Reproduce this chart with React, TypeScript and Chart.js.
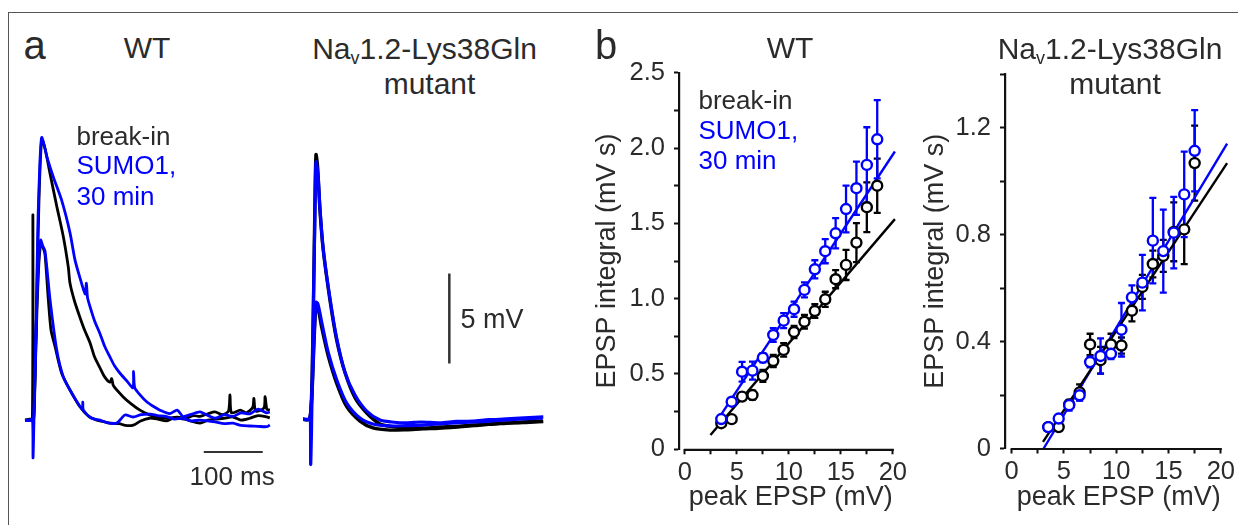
import React, { useEffect, useRef } from "react";
import { Chart, registerables } from "chart.js";
Chart.register(...registerables);

const BLUE = "#0000ff";
const BLACK = "#000000";
const AXIS = "#111111";
const TEXT = "#2b2b2b";
const FONT = "'Liberation Sans', Arial, Helvetica, sans-serif";

// ---------- Panel a: example traces, [time (ms), voltage (mV)] ----------
const wtBreakInLarge: [number, number][] = [
  [0, 0], [8, 0.05], [12.5, 0.1], [13.4, 11.4], [14.2, 0], [16.9, 2.2], [20.3, 7.2], [23.7, 12.2],
  [28.3, 15.6], [33.9, 15.1], [42.4, 13.7], [53.7, 11.9], [64.9, 10.2], [73.4, 8.5], [76.3, 7.6],
  [84, 6.6], [93.2, 5.7], [101, 5.0], [110.2, 4.3], [118, 3.5], [127.1, 2.9], [135, 2.4], [144.1, 2.1],
  [147, 2.3], [150, 1.9], [166.1, 1.3], [180, 0.9], [194.9, 0.55], [210, 0.3], [223.7, 0.17], [240, 0.1],
  [254, 0.15], [270, 0.05], [285, 0.25], [296.6, 0.2], [310, 0.35], [322, 0.45], [335, 0.3], [345, 0.5],
  [347.5, 1.4], [350, 0.4], [365, 0.55], [375, 0.4], [386, 0.7], [388, 1.2], [391, 0.5], [405, 0.67],
  [407, 1.3], [410, 0.6], [415, 0.55],
];
const wtSumoLarge: [number, number][] = [
  [0, 0], [8, -0.03], [12.7, 0.06], [13.6, -2.1], [15, -0.3], [18.6, 5.0], [22, 11.1], [25.4, 14.4],
  [28.3, 15.7], [32.2, 15.3], [37.3, 14.6], [48, 13.5], [62.2, 12.2], [76.3, 10.4], [84.7, 8.9],
  [93.2, 7.9], [102, 7.0], [104, 7.6], [106, 6.8], [110.2, 6.3], [118, 5.5], [127.1, 4.8], [135, 4.1],
  [144.1, 3.5], [152, 3.0], [161, 2.6], [172, 2.2], [183, 1.8], [184, 2.7], [186, 1.8], [195, 1.4],
  [206.8, 1.0], [218, 0.75], [228.8, 0.55], [245, 0.35], [258, 0.55], [267.8, 0.2], [280, 0.3],
  [296.6, 0.45], [310, 0.25], [322, 0.1], [338, 0.3], [352.5, 0.2], [366, 0.4], [381, 0.35], [395, 0.6],
  [409.7, 0.4], [415, 0.45],
];
const wtBreakInSmall: [number, number][] = [
  [0, 0], [8, 0], [14.4, 0], [16.9, 2.2], [20.3, 6.1], [23.7, 8.8], [27.1, 9.8], [30.5, 9.6],
  [33.9, 9.2], [39.5, 6.7], [44.1, 5.0], [50.8, 4.1], [62.2, 2.6], [76.3, 1.67], [93.2, 0.74],
  [108, 0.2], [121.5, 0], [135, -0.1], [144, -0.17], [160, -0.2], [170, -0.3], [183.6, -0.28],
  [196, -0.05], [211, 0.1], [225, 0.05], [240, -0.05], [255, 0.15], [267.8, 0.1], [280, -0.05],
  [296.6, -0.17], [310, 0], [322, 0.05], [337, 0.1], [352.5, 0.17], [366, 0.0], [381, 0.1],
  [395, 0.25], [409.7, 0.18], [415, 0.12],
];
const wtSumoSmall: [number, number][] = [
  [0, 0], [8, 0], [13.6, 0], [15, 0.5], [16.9, 2.8], [20.3, 6.7], [23.7, 9.2], [26.6, 10.0],
  [29.7, 9.7], [33.9, 9.4], [42.4, 6.7], [53.7, 3.9], [64.9, 2.4], [79.2, 1.5], [97, 0.6], [98, 1.0],
  [99, 0.55], [113, 0.1], [127.1, 0], [140, -0.15], [155.4, -0.17], [169.5, 0.28], [183, 0.17],
  [197, 0.3], [211.9, 0.33], [225, 0.25], [239, 0.2], [253, 0.05], [267.8, 0.1], [282, -0.05],
  [296.6, 0], [310, -0.05], [322, -0.1], [338, -0.2], [352.5, -0.17], [366, -0.3], [381, -0.33],
  [395, -0.35], [409.7, -0.37], [415, -0.28],
];
const mutBreakInLarge: [number, number][] = [
  [0, 0], [10.2, 0], [13, 0.24], [15.3, 2.2], [17.8, 6.6], [20.3, 12.2], [22, 14.7], [24.6, 14.1],
  [28.8, 11.6], [34.4, 9.4], [45.8, 6.6], [57.1, 4.4], [71.2, 2.6], [88.1, 1.2], [108, 0.35],
  [130.5, -0.26], [150, -0.4], [175.8, -0.48], [200, -0.5], [232.2, -0.43], [260, -0.4],
  [288.1, -0.32], [315, -0.28], [345.3, -0.2], [375, -0.18], [407.3, -0.12],
];
const mutSumoLarge: [number, number][] = [
  [0, 0], [10.2, 0], [12.5, 0.1], [13, -2.5], [14.4, -0.6], [16.9, 5.0], [20.3, 11.6], [22, 14.3],
  [25.4, 13.6], [28.8, 11.7], [34.4, 9.4], [45.8, 6.7], [57.1, 4.5], [71.2, 2.6], [88.1, 1.35],
  [108, 0.46], [130.5, -0.04], [150, -0.15], [175.8, -0.2], [200, -0.15], [232.2, -0.2], [260, -0.12],
  [288.1, -0.1], [315, -0.02], [345.3, 0.02], [375, 0.08], [407.3, 0.13],
];
const mutBreakInSmall: [number, number][] = [
  [0, 0], [11, 0], [15.3, 1.5], [18.6, 4.2], [22, 6.3], [25.4, 6.2], [31.7, 5.1], [42.9, 3.5],
  [57.1, 2.0], [74.1, 0.7], [96.6, -0.1], [118.6, -0.48], [147.5, -0.6], [175, -0.58], [203.4, -0.53],
  [230, -0.5], [260.5, -0.43], [290, -0.35], [316.9, -0.26], [345, -0.22], [375, -0.15], [406.3, -0.1],
];
const mutSumoSmall: [number, number][] = [
  [0, 0], [11, 0], [15.3, 1.6], [18.6, 4.4], [22, 6.5], [25.4, 6.4], [31.7, 5.4], [42.9, 3.7],
  [57.1, 2.2], [74.1, 0.9], [96.6, 0.07], [118.6, -0.26], [147.5, -0.37], [175, -0.35], [203.4, -0.32],
  [230, -0.25], [260.5, -0.2], [290, -0.15], [316.9, -0.1], [345, -0.03], [375, 0.02], [406.3, 0.07],
];
// scale bars
const timeBar: [number, number][] = [[303, -1.78], [403, -1.78]]; // 100 ms
const voltBar: [number, number][] = [[248, 3.1], [248, 8.1]]; // 5 mV

// ---------- Panel b: EPSP integral vs peak EPSP ----------
const wtPeak = [3.5, 4.5, 5.5, 6.5, 7.5, 8.5, 9.5, 10.5, 11.5, 12.5, 13.5, 14.5, 15.5, 16.5, 17.5, 18.5];
const wtBreakIn = [0.173, 0.2, 0.35, 0.36, 0.487, 0.586, 0.66, 0.779, 0.847, 0.918, 0.996, 1.129, 1.224, 1.372, 1.607, 1.75];
const wtBreakInErr = [0.015, 0.015, 0.02, 0.03, 0.04, 0.04, 0.045, 0.04, 0.045, 0.045, 0.05, 0.06, 0.1, 0.13, 0.165, 0.18];
const wtSumo = [0.201, 0.316, 0.515, 0.522, 0.608, 0.759, 0.854, 0.93, 1.058, 1.195, 1.315, 1.434, 1.595, 1.733, 1.888, 2.058];
const wtSumoErr = [0.02, 0.02, 0.066, 0.06, 0.03, 0.045, 0.05, 0.05, 0.05, 0.06, 0.08, 0.1, 0.155, 0.177, 0.25, 0.26];
const wtBreakInFit: [number, number][] = [[2.46, 0.095], [20.2, 1.528]];
const wtSumoFit: [number, number][] = [[3.15, 0.195], [20.2, 1.977]];

const mutPeak = [3.5, 4.5, 5.5, 6.5, 7.5, 8.5, 9.5, 10.5, 11.5, 12.5, 13.5, 14.5, 15.5, 16.5, 17.5];
const mutBreakIn = [0.08, 0.08, 0.165, 0.21, 0.389, 0.33, 0.389, 0.385, 0.515, 0.604, 0.69, 0.72, 0.81, 0.819, 1.067];
const mutBreakInErr = [0.01, 0.01, 0.015, 0.03, 0.04, 0.05, 0.04, 0.03, 0.04, 0.045, 0.05, 0.06, 0.11, 0.13, 0.14];
const mutSumo = [0.08, 0.112, 0.162, 0.199, 0.323, 0.346, 0.354, 0.444, 0.565, 0.62, 0.777, 0.738, 0.807, 0.95, 1.113];
const mutSumoErr = [0.01, 0.01, 0.02, 0.02, 0.02, 0.066, 0.02, 0.1, 0.045, 0.104, 0.16, 0.155, 0.134, 0.16, 0.152];
const mutBreakInFit: [number, number][] = [[3.0, 0.025], [20.6, 1.067]];
const mutSumoFit: [number, number][] = [[3.06, 0.0], [20.6, 1.14]];

const xTickValues = [0, 2.5, 5, 7.5, 10, 12.5, 15, 17.5, 20];
const xLabelEvery = 5;

// ---------- plugins ----------
const errorBarPlugin = {
  id: "errorBars",
  beforeDatasetsDraw(chart: any) {
    const { ctx, scales } = chart;
    const x = scales.x, y = scales.y;
    ctx.save();
    chart.data.datasets.forEach((ds: any) => {
      if (!ds.errors) return;
      ctx.strokeStyle = ds.borderColor;
      ctx.lineWidth = 2.3;
      ds.data.forEach((p: any, j: number) => {
        const e = ds.errors[j];
        const px = x.getPixelForValue(p.x);
        const t = y.getPixelForValue(p.y + e);
        const b = y.getPixelForValue(p.y - e);
        ctx.beginPath();
        ctx.moveTo(px, t); ctx.lineTo(px, b);
        ctx.moveTo(px - 3.5, t); ctx.lineTo(px + 3.5, t);
        ctx.moveTo(px - 3.5, b); ctx.lineTo(px + 3.5, b);
        ctx.stroke();
      });
    });
    ctx.restore();
  },
};

const offsetXAxisPlugin = {
  id: "offsetXAxis",
  afterDraw(chart: any, _args: any, opts: any) {
    const { ctx, scales, chartArea } = chart;
    const x0 = scales.x.getPixelForValue(opts.from);
    const x1 = scales.x.getPixelForValue(opts.to);
    ctx.save();
    ctx.strokeStyle = AXIS;
    ctx.lineWidth = 2.2;
    ctx.beginPath();
    ctx.moveTo(x0 - 1, chartArea.bottom + 0.5);
    ctx.lineTo(x1 + 1, chartArea.bottom + 0.5);
    ctx.stroke();
    ctx.restore();
  },
};

// ---------- config builders ----------
function traceConfig(traces: { data: [number, number][]; color: string; width: number; order: number }[],
  xMin: number, xMax: number, yMin: number, yMax: number): any {
  return {
    type: "scatter",
    data: {
      datasets: traces.map((t) => ({
        data: t.data.map(([x, y]) => ({ x, y })),
        showLine: true,
        borderColor: t.color,
        borderWidth: t.width,
        pointRadius: 0,
        tension: 0.25,
        order: t.order,
        clip: false,
      })),
    },
    options: {
      animation: false,
      responsive: false,
      events: [],
      layout: { padding: 0 },
      plugins: { legend: { display: false }, tooltip: { enabled: false } },
      scales: {
        x: { type: "linear", min: xMin, max: xMax, display: false },
        y: { type: "linear", min: yMin, max: yMax, display: false },
      },
    },
  };
}

function isMultiple(v: number, step: number) {
  return Math.abs(v / step - Math.round(v / step)) < 1e-6;
}

function scatterConfig(p: {
  peak: number[]; black: number[]; blackErr: number[]; blue: number[]; blueErr: number[];
  blackFit: [number, number][]; blueFit: [number, number][];
  xMin: number; yMax: number; yStep: number; yLabelStep: number;
  yAxisWidth: number; xAxisHeight: number; padTop: number; padRight: number; yTitlePad: number;
}): any {
  const tickFont = { family: FONT, size: 25.5 };
  const titleFont = { family: FONT, size: 27, lineHeight: 1 };
  return {
    type: "scatter",
    data: {
      datasets: [
        {
          data: p.blueFit.map(([x, y]) => ({ x, y })), showLine: true, borderColor: BLUE,
          borderWidth: 2.4, pointRadius: 0, clip: false, order: 6,
        },
        {
          data: p.blackFit.map(([x, y]) => ({ x, y })), showLine: true, borderColor: BLACK,
          borderWidth: 2.4, pointRadius: 0, clip: false, order: 5,
        },
        {
          data: p.peak.map((x, i) => ({ x, y: p.black[i] })), errors: p.blackErr,
          borderColor: BLACK, backgroundColor: "#ffffff", pointRadius: 5, pointBorderWidth: 2.4,
          pointBackgroundColor: "#ffffff", pointBorderColor: BLACK, clip: false, order: 1,
        },
        {
          data: p.peak.map((x, i) => ({ x, y: p.blue[i] })), errors: p.blueErr,
          borderColor: BLUE, backgroundColor: "#ffffff", pointRadius: 5, pointBorderWidth: 2.4,
          pointBackgroundColor: "#ffffff", pointBorderColor: BLUE, clip: false, order: 0,
        },
      ],
    },
    options: {
      animation: false,
      responsive: false,
      events: [],
      layout: { padding: { top: p.padTop, right: p.padRight, left: 0, bottom: 0 } },
      plugins: {
        legend: { display: false },
        tooltip: { enabled: false },
        offsetXAxis: { from: 0, to: 20 },
      },
      scales: {
        x: {
          type: "linear", min: p.xMin, max: 20,
          afterBuildTicks: (s: any) => { s.ticks = xTickValues.map((value) => ({ value })); },
          afterFit: (s: any) => { s.height = p.xAxisHeight; },
          ticks: {
            autoSkip: false, maxRotation: 0, padding: 3, color: TEXT, font: tickFont,
            callback: (v: number) => (isMultiple(v, xLabelEvery) ? String(Math.round(v)) : ""),
          },
          grid: { display: true, drawOnChartArea: false, drawTicks: true, tickLength: 5, tickWidth: 2, tickColor: AXIS },
          border: { display: false },
          title: { display: true, align: "end", text: "peak EPSP (mV)", color: TEXT, font: titleFont, padding: { top: 0, bottom: 9 } },
        },
        y: {
          type: "linear", min: 0, max: p.yMax,
          afterFit: (s: any) => { s.width = p.yAxisWidth; },
          ticks: {
            stepSize: p.yStep, autoSkip: false, padding: 9, color: TEXT, font: tickFont,
            callback: (v: number) => (isMultiple(v, p.yLabelStep) ? (Math.abs(v) < 1e-9 ? "0" : v.toFixed(1)) : ""),
          },
          grid: { display: true, drawOnChartArea: false, drawTicks: true, tickLength: 5, tickWidth: 2, tickColor: AXIS },
          border: { display: true, color: AXIS, width: 2.2 },
          title: { display: true, text: "EPSP integral (mV s)", color: TEXT, font: titleFont, padding: { top: p.yTitlePad, bottom: 0 } },
        },
      },
    },
    plugins: [errorBarPlugin, offsetXAxisPlugin],
  };
}

// ---------- components ----------
function ChartBox({ left, top, width, height, config }: { left: number; top: number; width: number; height: number; config: any }) {
  const ref = useRef<HTMLCanvasElement>(null);
  useEffect(() => {
    const chart = new Chart(ref.current as HTMLCanvasElement, config);
    return () => chart.destroy();
  }, []);
  return (
    <canvas ref={ref} width={width} height={height}
      style={{ position: "absolute", left, top, width, height, display: "block" }} />
  );
}

function Label({ x, baseline, size, color = TEXT, center = false, children }:
  { x: number; baseline: number; size: number; color?: string; center?: boolean; children: React.ReactNode }) {
  return (
    <div style={{
      position: "absolute", left: x, top: baseline - 0.8465 * size, fontSize: size, lineHeight: `${size}px`,
      fontFamily: FONT, color, whiteSpace: "nowrap", transform: center ? "translateX(-50%)" : undefined,
    }}>{children}</div>
  );
}

const Sub = () => (
  <span style={{ fontSize: "0.6em", position: "relative", top: "0.28em" }}>v</span>
);

export default function App() {
  // Panel a scale: 0.59 px/ms, 18 px/mV
  const wtA = traceConfig([
    { data: wtBreakInLarge, color: BLACK, width: 2.8, order: 3 },
    { data: wtBreakInSmall, color: BLACK, width: 2.8, order: 2 },
    { data: wtSumoSmall, color: BLUE, width: 2.8, order: 1 },
    { data: wtSumoLarge, color: BLUE, width: 2.8, order: 0 },
    { data: timeBar, color: "#333333", width: 2, order: 4 },
  ], -8.47, 449.2, -3.33, 17.78);
  const mutA = traceConfig([
    { data: mutBreakInSmall, color: BLACK, width: 3.4, order: 3 },
    { data: mutBreakInLarge, color: BLACK, width: 3.4, order: 2 },
    { data: mutSumoSmall, color: BLUE, width: 3.2, order: 1 },
    { data: mutSumoLarge, color: BLUE, width: 3.2, order: 0 },
    { data: voltBar, color: "#333333", width: 2.5, order: 4 },
  ], -13.56, 435.6, -3.372, 17.74);

  const wtB = scatterConfig({
    peak: wtPeak, black: wtBreakIn, blackErr: wtBreakInErr, blue: wtSumo, blueErr: wtSumoErr,
    blackFit: wtBreakInFit, blueFit: wtSumoFit, xMin: -0.567, yMax: 2.5, yStep: 0.25, yLabelStep: 0.5,
    yAxisWidth: 89, xAxisHeight: 70.7, padTop: 52.7, padRight: 13.3, yTitlePad: 4,
  });
  const mutB = scatterConfig({
    peak: mutPeak, black: mutBreakIn, blackErr: mutBreakInErr, blue: mutSumo, blueErr: mutSumoErr,
    blackFit: mutBreakInFit, blueFit: mutSumoFit, xMin: -0.635, yMax: 1.4, yStep: 0.2, yLabelStep: 0.4,
    yAxisWidth: 85, xAxisHeight: 71.5, padTop: 54, padRight: 15.3, yTitlePad: 2,
  });

  return (
    <div style={{ position: "absolute", left: 0, top: 0, width: 1238, height: 525, overflow: "hidden", background: "#ffffff" }}>
      <div style={{ position: "absolute", left: 8, top: 12, right: -4, bottom: -4, borderLeft: "1.5px solid #555", borderTop: "1.5px solid #555" }} />

      <ChartBox left={20} top={100} width={270} height={380} config={wtA} />
      <ChartBox left={295} top={100} width={265} height={380} config={mutA} />
      <ChartBox left={590} top={20} width={320} height={500} config={wtB} />
      <ChartBox left={920} top={20} width={318} height={500} config={mutB} />

      <Label x={23.5} baseline={58.5} size={40}>a</Label>
      <Label x={147} baseline={58.3} size={30} center>WT</Label>
      <Label x={424.5} baseline={59.3} size={30} center>Na<Sub />1.2-Lys38Gln</Label>
      <Label x={429.5} baseline={94} size={30} center>mutant</Label>
      <Label x={76.5} baseline={145} size={26}>break-in</Label>
      <Label x={76.5} baseline={174.5} size={26} color={BLUE}>SUMO1,</Label>
      <Label x={76.5} baseline={205} size={26} color={BLUE}>30 min</Label>
      <Label x={189.5} baseline={485} size={26}>100 ms</Label>
      <Label x={460.5} baseline={329} size={27}>5 mV</Label>

      <Label x={595} baseline={58.5} size={40}>b</Label>
      <Label x={790} baseline={58.3} size={30} center>WT</Label>
      <Label x={698.5} baseline={109} size={26}>break-in</Label>
      <Label x={698.5} baseline={139.5} size={26} color={BLUE}>SUMO1,</Label>
      <Label x={698.5} baseline={169} size={26} color={BLUE}>30 min</Label>
      <Label x={1110} baseline={59.3} size={30} center>Na<Sub />1.2-Lys38Gln</Label>
      <Label x={1115} baseline={94} size={30} center>mutant</Label>
    </div>
  );
}
